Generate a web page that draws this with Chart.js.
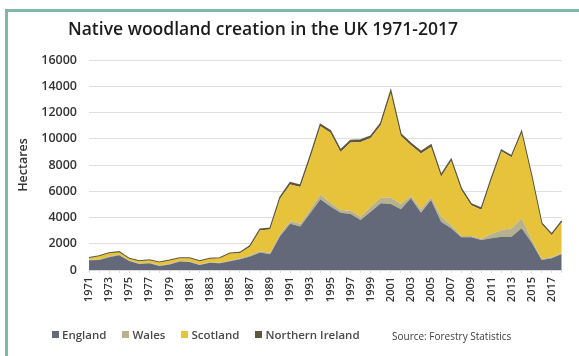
<!DOCTYPE html>
<html>
<head>
<meta charset="utf-8">
<title>Native woodland creation in the UK 1971-2017</title>
<script src="https://cdn.jsdelivr.net/npm/chart.js@4"></script>
<style>
    html, body { margin: 0; padding: 0; background: #fff; }
    #wrap { position: relative; width: 579px; height: 356px; overflow: hidden; font-family: "Open Sans", sans-serif; }
    #wrap canvas { position: absolute; left: 0; top: 0; }
    .frame { position: absolute; background: #7fb9a4; }
    #title { position: absolute; left: 0; top: 16px; width: 526px; text-align: center; font-size: 17.5px; font-weight: 600; color: #1c1c1c; }
    #legend { position: absolute; left: 52px; top: 327px; display: flex; font-size: 11.5px; font-weight: 600; color: #4a4a4a; }
    #legend span.item { display: flex; align-items: center; margin-right: 16px; }
    #legend span.box { display: inline-block; width: 7px; height: 7px; margin-right: 3px; }
    #source { position: absolute; left: 392px; top: 329px; font-size: 10px; color: #404040; }
</style>
</head>
<body>
<div id="wrap">
    <canvas id="woodChart" width="579" height="356"></canvas>
    <div class="frame" style="left:5px; top:9px; width:3px; height:347px;"></div>
    <div class="frame" style="left:5px; top:9px; width:574px; height:3px;"></div>
    <div id="title">Native woodland creation in the UK 1971-2017</div>
    <div id="legend"></div>
    <div id="source">Source: Forestry Statistics</div>
</div>
<script>
// data (hectares)
const years = [
    "1971", "1972", "1973", "1974", "1975", "1976", "1977", "1978", "1979", "1980",
    "1981", "1982", "1983", "1984", "1985", "1986", "1987", "1988", "1989", "1990",
    "1991", "1992", "1993", "1994", "1995", "1996", "1997", "1998", "1999", "2000",
    "2001", "2002", "2003", "2004", "2005", "2006", "2007", "2008", "2009", "2010",
    "2011", "2012", "2013", "2014", "2015", "2016", "2017", "2018"
];
const england = [
    750, 760, 970, 1130, 690, 460, 510, 310, 410, 640,
    610, 380, 560, 510, 660, 810, 1020, 1330, 1200, 2600,
    3520, 3320, 4335, 5400, 4830, 4370, 4270, 3810, 4445, 5080,
    5030, 4620, 5460, 4370, 5330, 3680, 3175, 2490, 2490, 2290,
    2410, 2540, 2540, 3175, 2100, 760, 890, 1220
];
const wales = [
    40, 40, 50, 50, 40, 40, 40, 40, 40, 40,
    40, 40, 40, 40, 50, 60, 80, 100, 100, 150,
    200, 200, 250, 350, 300, 200, 250, 250, 380, 430,
    500, 410, 180, 250, 210, 380, 255, 100, 100, 100,
    330, 510, 635, 765, 200, 80, 75, 50
];
const scotland = [
    130, 250, 260, 180, 120, 170, 195, 220, 270, 220,
    250, 250, 250, 340, 540, 420, 680, 1600, 1790, 2690,
    2800, 2800, 3965, 5200, 5320, 4420, 5190, 5690, 5225, 5520,
    7960, 5180, 3860, 4250, 3835, 3060, 4880, 3530, 2340, 2210,
    4145, 5990, 5415, 6500, 4800, 2640, 1695, 2380
];
const northernIreland = [
    20, 20, 20, 20, 20, 20, 20, 20, 20, 20,
    20, 20, 20, 30, 30, 40, 60, 80, 100, 120,
    130, 130, 150, 150, 150, 150, 150, 150, 150, 150,
    150, 150, 150, 150, 150, 120, 120, 100, 100, 100,
    100, 100, 100, 100, 100, 80, 80, 80
];
const yTicks = { min: 0, max: 16000, step: 2000 };

document.addEventListener("DOMContentLoaded", () => {
    const ctx = document.getElementById("woodChart").getContext("2d");

    const chartData = {
        labels: years,
        datasets: [
            { label: "England", data: england, backgroundColor: "#636978", borderColor: "#636978", borderWidth: 0, fill: "origin" },
            { label: "Wales", data: wales, backgroundColor: "#b8b28c", borderColor: "#b8b28c", borderWidth: 0, fill: "-1" },
            { label: "Scotland", data: scotland, backgroundColor: "#e7c33c", borderColor: "#e7c33c", borderWidth: 0, fill: "-1" },
            { label: "Northern Ireland", data: northernIreland, backgroundColor: "#5d5840", borderColor: "#5d5840", borderWidth: 1.5, fill: "-1" }
        ]
    };

    const chartOptions = {
        responsive: false,
        animation: false,
        layout: { padding: { left: 0, top: 60, right: 4, bottom: 36 } },
        elements: { point: { radius: 0 }, line: { tension: 0 } },
        plugins: {
            legend: { display: false },
            tooltip: { enabled: false }
        },
        scales: {
            x: {
                stacked: true,
                offset: false,
                afterFit: scale => { scale.height = 50; },
                grid: { drawOnChartArea: false, tickLength: 3, color: "#dcdcdc" },
                border: { color: "#d9d9d9" },
                ticks: {
                    autoSkip: false,
                    maxRotation: 90,
                    minRotation: 90,
                    padding: 4,
                    color: "#333",
                    font: { family: "Open Sans", size: 11, weight: "600" },
                    callback: function (val, i) {
                        return i % 2 === 0 ? this.getLabelForValue(val) : "";
                    }
                }
            },
            y: {
                stacked: true,
                min: yTicks.min,
                max: yTicks.max,
                afterFit: scale => { scale.width = 89; },
                grid: { color: "#e6dcdc", drawTicks: false },
                border: { display: false },
                ticks: {
                    stepSize: yTicks.step,
                    padding: 12,
                    color: "#333",
                    font: { family: "Open Sans", size: 12.5, weight: "600" },
                    callback: val => String(val)
                },
                title: {
                    display: true,
                    text: "Hectares",
                    color: "#333",
                    padding: { top: 16, bottom: 0 },
                    font: { family: "Open Sans", size: 12.5, weight: "600" }
                }
            }
        }
    };

    const chart = new Chart(ctx, { type: "line", data: chartData, options: chartOptions });

    // legend built from the datasets
    const legend = document.getElementById("legend");
    chart.data.datasets.forEach(ds => {
        const item = document.createElement("span");
        item.className = "item";
        item.innerHTML = '<span class="box" style="background:' + ds.backgroundColor + '"></span>' + ds.label;
        legend.appendChild(item);
    });
});
</script>
</body>
</html>
